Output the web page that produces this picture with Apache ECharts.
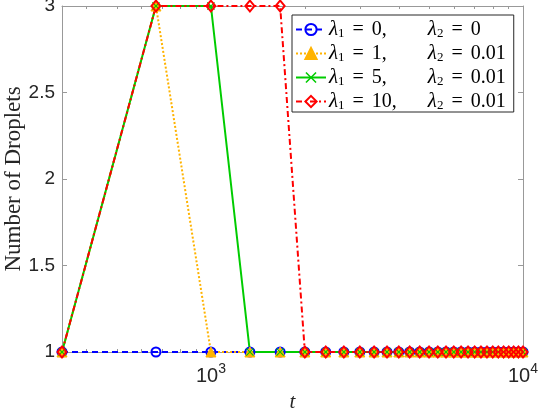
<!DOCTYPE html>
<html>
<head>
<meta charset="utf-8">
<script src="https://cdn.jsdelivr.net/npm/echarts@6/dist/echarts.min.js"></script>
<style>
    html, body {
        margin: 0;
        padding: 0;
        background: #fff;
    }
    #chart {
        width: 538px;
        height: 410px;
    }
</style>
</head>
<body>
<div id="chart"></div>
<script>
// time points (t)
const tValues = [333.33, 666.67, 1000, 1333.33, 1666.67, 2000, 2333.33, 2666.67, 3000, 3333.33,
    3666.67, 4000, 4333.33, 4666.67, 5000, 5333.33, 5666.67, 6000, 6333.33, 6666.67,
    7000, 7333.33, 7666.67, 8000, 8333.33, 8666.67, 9000, 9333.33, 9666.67, 10000];

// number of droplets for each parameter pair
const dropsLam0 = [1, 1, 1, 1, 1, 1, 1, 1, 1, 1, 1, 1, 1, 1, 1, 1, 1, 1, 1, 1, 1, 1, 1, 1, 1, 1, 1, 1, 1, 1];
const dropsLam1 = [1, 3, 1, 1, 1, 1, 1, 1, 1, 1, 1, 1, 1, 1, 1, 1, 1, 1, 1, 1, 1, 1, 1, 1, 1, 1, 1, 1, 1, 1];
const dropsLam5 = [1, 3, 3, 1, 1, 1, 1, 1, 1, 1, 1, 1, 1, 1, 1, 1, 1, 1, 1, 1, 1, 1, 1, 1, 1, 1, 1, 1, 1, 1];
const dropsLam10 = [1, 3, 3, 3, 3, 1, 1, 1, 1, 1, 1, 1, 1, 1, 1, 1, 1, 1, 1, 1, 1, 1, 1, 1, 1, 1, 1, 1, 1, 1];

const lambda1 = ['0', '1', '5', '10'];
const lambda2 = ['0', '0.01', '0.01', '0.01'];

const xMajorTicks = [1000, 10000];
const xMinorTicks = [400, 500, 600, 700, 800, 900, 2000, 3000, 4000, 5000, 6000, 7000, 8000, 9000];

const SERIF = 'Liberation Serif, DejaVu Serif, serif';
const SANS = 'Liberation Sans, Arial, Helvetica, sans-serif';
const BOX = '#999999';
const INK = '#262626';

const xMin = tValues[0];
const xMax = tValues[tValues.length - 1];

const seriesNames = lambda1.map((l1, i) => 'λ1 = ' + l1 + ', λ2 = ' + lambda2[i]);

const pair = arr => tValues.map((t, i) => [t, arr[i]]);

const crossPath = 'path://M1,0 L5,4 L9,0 L10,1 L6,5 L10,9 L9,10 L5,6 L1,10 L0,9 L4,5 L0,1 Z';

const logAxis = (position, major, showLabel) => ({
    type: 'log',
    logBase: 10,
    min: xMin,
    max: xMax,
    position: position,
    gridIndex: 0,
    axisLine: {show: major, lineStyle: {color: BOX, width: 1}},
    splitLine: {show: false},
    axisTick: {
        show: true,
        inside: true,
        length: major ? 5 : 3,
        customValues: major ? xMajorTicks : xMinorTicks,
        lineStyle: {color: BOX, width: 1}
    },
    axisLabel: {
        show: showLabel,
        customValues: xMajorTicks,
        margin: 10,
        fontSize: 20,
        fontFamily: SANS,
        color: INK,
        formatter: v => '{b|10}{s|' + Math.round(Math.log10(v)) + '}',
        rich: {
            b: {fontFamily: SANS, fontSize: 20, color: INK, verticalAlign: 'bottom'},
            s: {fontFamily: SANS, fontSize: 14, color: INK, verticalAlign: 'top', padding: [0, 0, 10, 0]}
        }
    }
});

const valueAxis = (position, showLabel) => ({
    type: 'value',
    min: 1,
    max: 3,
    interval: 0.5,
    position: position,
    axisLine: {show: true, lineStyle: {color: BOX, width: 1}},
    splitLine: {show: false},
    axisTick: {show: true, inside: true, length: 5, lineStyle: {color: BOX, width: 1}},
    axisLabel: {
        show: showLabel,
        margin: 7,
        fontFamily: SANS,
        fontSize: 19,
        color: INK,
        formatter: v => String(v)
    }
});

const legendText = name => {
    const i = seriesNames.indexOf(name);
    return '{l|λ}{s|1}{q|=}{n|' + lambda1[i] + ',}{l|λ}{s|2}{q|=}{f|' + lambda2[i] + '}';
};

const chart = echarts.init(document.getElementById('chart'), null, {renderer: 'canvas'});

const option = {
    animation: false,
    backgroundColor: '#ffffff',
    grid: {left: 62, right: 15, top: 6, bottom: 58, containLabel: false, outerBoundsMode: 'none'},
    xAxis: [
        Object.assign(logAxis('bottom', true, true), {
            name: 't',
            nameLocation: 'middle',
            nameGap: 40,
            nameMoveOverlap: false,
            nameTextStyle: {fontFamily: SERIF, fontStyle: 'italic', fontSize: 21, color: INK}
        }),
        logAxis('bottom', false, false),
        logAxis('top', true, false),
        logAxis('top', false, false)
    ],
    yAxis: [
        Object.assign(valueAxis('left', true), {
            name: 'Number of Droplets',
            nameLocation: 'middle',
            nameRotate: 90,
            nameGap: 37,
            nameMoveOverlap: false,
            nameTextStyle: {fontFamily: SERIF, fontSize: 23, color: INK}
        }),
        valueAxis('right', false)
    ],
    legend: {
        orient: 'vertical',
        left: 292,
        top: 15,
        padding: [4, 8, 0, 3],
        itemGap: 3,
        itemWidth: 30,
        itemHeight: 14,
        backgroundColor: '#ffffff',
        borderColor: INK,
        borderWidth: 1,
        borderRadius: 0,
        data: seriesNames,
        formatter: legendText,
        textStyle: {
            padding: [0, 0, 0, -2],
            rich: {
                l: {fontFamily: SERIF, fontStyle: 'italic', fontSize: 21, color: '#000'},
                s: {fontFamily: SERIF, fontSize: 13, color: '#000', verticalAlign: 'bottom'},
                q: {fontFamily: SERIF, fontSize: 20, color: '#000', padding: [0, 8, 0, 8]},
                n: {fontFamily: SERIF, fontSize: 20, color: '#000', width: 56},
                f: {fontFamily: SERIF, fontSize: 20, color: '#000'}
            }
        }
    },
    series: [
        {
            name: seriesNames[0],
            type: 'line',
            data: pair(dropsLam0),
            symbol: 'circle',
            symbolSize: 9,
            showAllSymbol: true,
            lineStyle: {color: '#0000ff', width: 2, type: [6, 4]},
            itemStyle: {color: 'rgba(255,255,255,0)', borderColor: '#0000ff', borderWidth: 2}
        },
        {
            name: seriesNames[1],
            type: 'line',
            data: pair(dropsLam1),
            symbol: 'triangle',
            symbolSize: 10,
            showAllSymbol: true,
            lineStyle: {color: '#ffb300', width: 2, type: [2, 2]},
            itemStyle: {color: '#ffb300', borderColor: '#ffb300', borderWidth: 1}
        },
        {
            name: seriesNames[2],
            type: 'line',
            data: pair(dropsLam5),
            symbol: crossPath,
            symbolSize: 8,
            showAllSymbol: true,
            lineStyle: {color: '#00cc00', width: 2, type: 'solid'},
            itemStyle: {color: '#00cc00'}
        },
        {
            name: seriesNames[3],
            type: 'line',
            data: pair(dropsLam10),
            symbol: 'diamond',
            symbolSize: [9, 11],
            showAllSymbol: true,
            lineStyle: {color: '#ff0000', width: 2, type: [6, 3, 2, 3]},
            itemStyle: {color: 'rgba(255,255,255,0)', borderColor: '#ff0000', borderWidth: 2}
        }
    ]
};

chart.setOption(option);
</script>
</body>
</html>
